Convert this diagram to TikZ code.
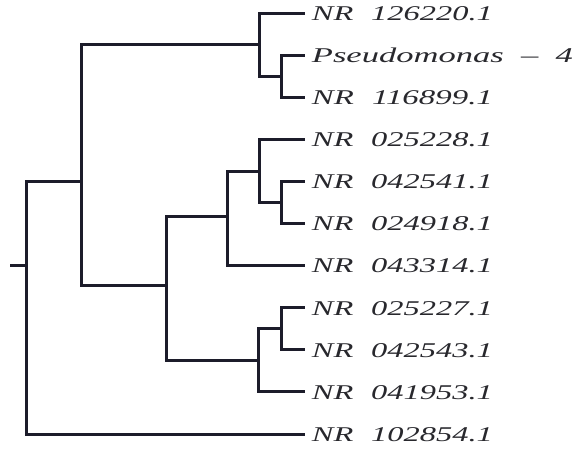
\documentclass[tikz,border=0pt]{standalone}
\usepackage{fontspec}
\usepackage{graphicx}
\setmainfont{Liberation Serif}
\definecolor{treecol}{RGB}{28,28,42}
\definecolor{labcol}{RGB}{40,40,45}
\newcommand\nrlab[1]{\resizebox{181pt}{\height}{NR\hspace{0.55em}#1}}
\begin{document}
\begin{tikzpicture}[x=1pt,y=-1pt,
  branch/.style={draw=treecol,line width=3pt},
  leaflab/.style={anchor=base west,inner sep=0pt,text=labcol,
    font=\fontsize{21}{25}\selectfont\itshape}]
\useasboundingbox (0,0) rectangle (576,448);
% internal nodes
\coordinate (S) at (10,265);
\coordinate (R) at (26.7,265);
\coordinate (A) at (81.7,181.7);
\coordinate (T) at (259,44.5);
\coordinate (T2) at (281.7,76.2);
\coordinate (B) at (166.7,285);
\coordinate (C) at (227.7,216.7);
\coordinate (D) at (259,171.4);
\coordinate (E) at (281.7,202.4);
\coordinate (F) at (258.3,360.5);
\coordinate (G) at (281.7,328.7);
% leaf ends
\foreach \i in {1,...,11}{
  \coordinate (l\i) at (305,{13+42.1*(\i-1)});
}
% labels
\foreach \i/\t in {1/126220.1,3/116899.1,4/025228.1,5/042541.1,6/024918.1,
  7/043314.1,8/025227.1,9/042543.1,10/041953.1,11/102854.1}{
  \node[leaflab] (n\i) at ([xshift=6.7pt,yshift=-7.3pt]l\i) {\nrlab{\t}};
}
\node[leaflab] (n2) at ([xshift=6.7pt,yshift=-7.3pt]l2)
  {\resizebox{261pt}{\height}{Pseudomonas\hspace{0.5em}\textendash\hspace{0.5em}4}};
% branches
\draw[branch] (S) -- (R);
\draw[branch] (R) |- (A);
\draw[branch] (R) |- (l11);
\draw[branch] (A) |- (T);
\draw[branch] (A) |- (B);
\draw[branch] (T) |- (l1);
\draw[branch] (T) |- (T2);
\draw[branch] (T2) |- (l2);
\draw[branch] (T2) |- (l3);
\draw[branch] (B) |- (C);
\draw[branch] (B) |- (F);
\draw[branch] (C) |- (D);
\draw[branch] (C) |- (l7);
\draw[branch] (D) |- (l4);
\draw[branch] (D) |- (E);
\draw[branch] (E) |- (l5);
\draw[branch] (E) |- (l6);
\draw[branch] (F) |- (G);
\draw[branch] (F) |- (l10);
\draw[branch] (G) |- (l8);
\draw[branch] (G) |- (l9);
\end{tikzpicture}
\end{document}
